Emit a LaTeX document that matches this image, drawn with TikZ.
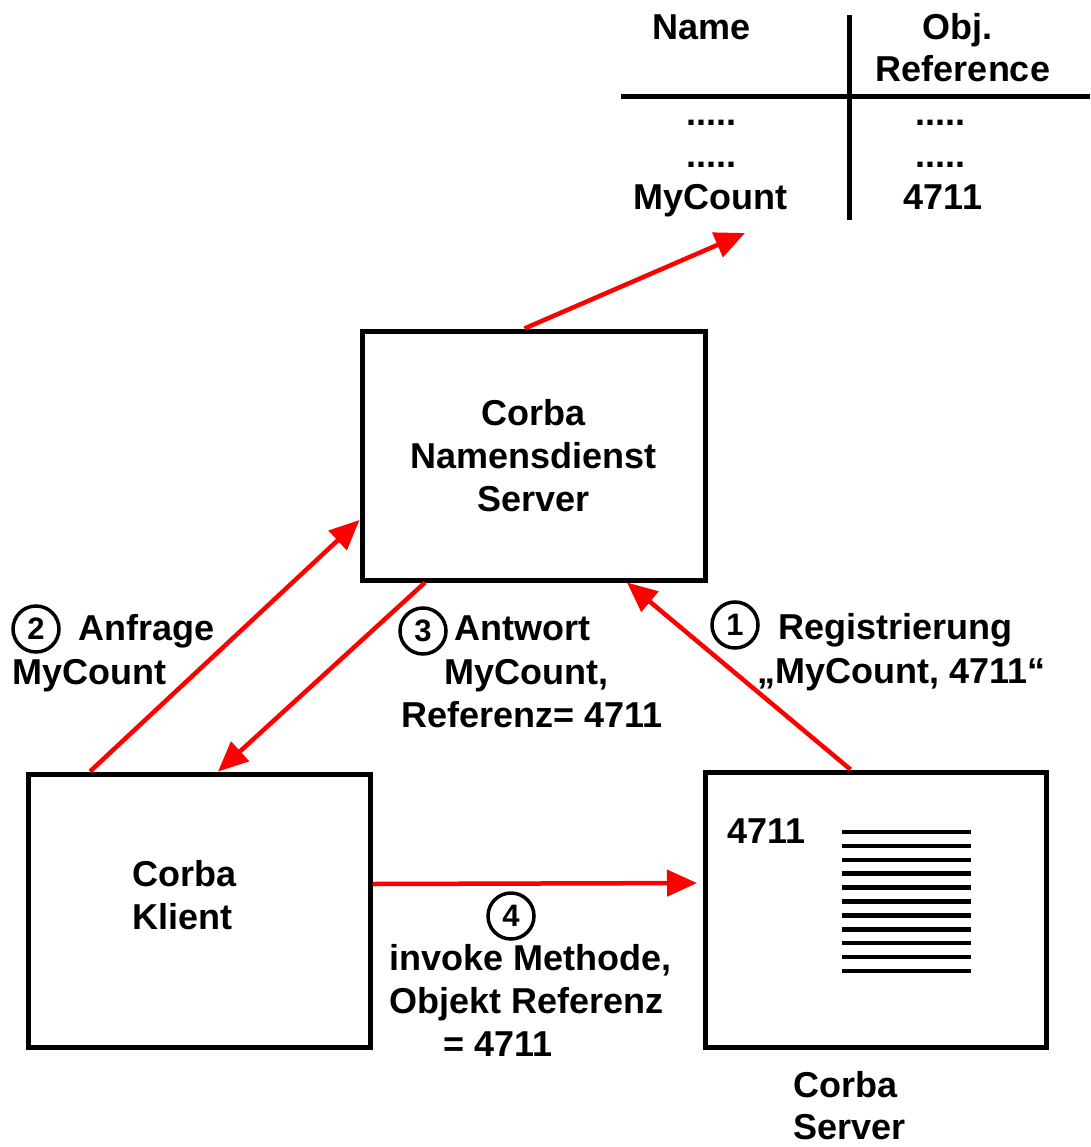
\documentclass[tikz,border=0pt]{standalone}
\usepackage{fontspec}
\setmainfont{Liberation Sans}
\usetikzlibrary{arrows.meta}

\begin{document}
\begin{tikzpicture}[x=1pt, y=-1pt,
    txt/.style={font=\bfseries\fontsize{36}{43}\selectfont, inner sep=0pt},
    box/.style={draw, line width=5pt, inner sep=0pt, align=center,
                font=\bfseries\fontsize{36}{43}\selectfont},
    num/.style={circle, draw, line width=3.5pt, minimum size=46pt, inner sep=0pt,
                font=\bfseries\fontsize{31}{31}\selectfont},
    arr/.style={draw=red, line width=4.5pt, -{Triangle[length=30pt,width=26pt]}}]
    \useasboundingbox (0,0) rectangle (1090,1147);
    % Table of names
    \draw[line width=5pt] (849,15) -- (849,220);
    \draw[line width=5pt] (621,97) -- (1090,97);
    \node[txt, anchor=base] (hname) at (702,40) {Name};
    \node[txt, anchor=base] (hobj) at (957,40) {Obj.};
    \node[txt, anchor=base] (href) at (963,82) {Reference};
    \node[txt, anchor=base] (dotsa) at (711,126) {.....};
    \node[txt, anchor=base] (dotsb) at (940,126) {.....};
    \node[txt, anchor=base] (dotsc) at (711,168) {.....};
    \node[txt, anchor=base] (dotsd) at (940,168) {.....};
    \node[txt, anchor=base] (tname) at (710,210) {MyCount};
    \node[txt, anchor=base] (tref) at (943,210) {4711};
    \coordinate (tbl) at (745,233);
    % Boxes
    \node[box, minimum width=343pt, minimum height=249pt] (ns) at (533.5,455.5)
        {Corba\\Namensdienst\\Server};
    \node[box, minimum width=342pt, minimum height=273pt] (kl) at (199,910.5) {};
    \node[box, minimum width=341pt, minimum height=275pt] (sv) at (875.5,909.5) {};
    \node[txt, anchor=base west] (klt) at (132,886) {Corba};
    \node[txt, anchor=base west] (klk) at (132,929) {Klient};
    \node[txt, anchor=base west] (svn) at (727,843) {4711};
    \foreach \i in {0,...,10}
        \draw[line width=4.5pt] (842,{832+13.9*\i}) -- (971,{832+13.9*\i});
    \node[txt, anchor=base west] (svt) at (793,1097) {Corba};
    \node[txt, anchor=base west] (svs) at (793,1139) {Server};
    % Arrows
    \draw[arr] ([xshift=-9pt]ns.north) -- (tbl);
    \draw[arr] ([xshift=148pt]sv.north west) -- ([xshift=267.5pt]ns.south west);
    \draw[arr] ([xshift=64.5pt]kl.north west) -- ([yshift=-191.5pt]ns.north west);
    \draw[arr] ([xshift=65.5pt]ns.south west) -- ([xshift=192.5pt]kl.north west);
    \draw[arr, shorten >=5.5pt] ([yshift=26.5pt]kl.east) -- ([yshift=26.5pt]sv.west);
    % Step labels
    \node[num] (c1) at (735,625) {1};
    \node[txt, anchor=base west] (reg) at (778,639) {Registrierung};
    \node[txt, anchor=base west] (regb) at (757,683) {„MyCount, 4711“};
    \node[num] (c2) at (36,629) {2};
    \node[txt, anchor=base west] (anf) at (78,640) {Anfrage};
    \node[txt, anchor=base west] (anfb) at (12,684) {MyCount};
    \node[num] (c3) at (423,631) {3};
    \node[txt, anchor=base west] (ant) at (454,640) {Antwort};
    \node[txt, anchor=base west] (antb) at (444,684) {MyCount,};
    \node[txt, anchor=base west] (antc) at (401,727) {Referenz= 4711};
    \node[num] (c4) at (511,916) {4};
    \node[txt, anchor=base west] (inv) at (389,970) {invoke Methode,};
    \node[txt, anchor=base west] (invb) at (389,1013) {Objekt Referenz};
    \node[txt, anchor=base west] (invc) at (443,1056) {= 4711};
\end{tikzpicture}
\end{document}
